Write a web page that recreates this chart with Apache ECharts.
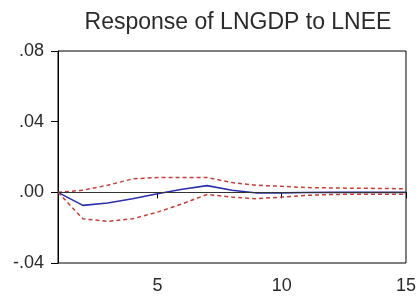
<!DOCTYPE html>
<html>
<head>
<meta charset="utf-8">
<script src="https://cdn.jsdelivr.net/npm/echarts@6/dist/echarts.min.js"></script>
<style>
  html, body { margin: 0; padding: 0; background: #fff; }
  #chart { width: 419px; height: 300px; }
</style>
</head>
<body>
<div id="chart"></div>
<script>
  // periods 1..15
  var periods = [1, 2, 3, 4, 5, 6, 7, 8, 9, 10, 11, 12, 13, 14, 15];
  var response = [0, -0.0074, -0.006, -0.0036, -0.0008, 0.0017, 0.0038, 0.0012, -0.0004, -0.0003, -0.0001, 0, 0, 0, 0];
  var upperBand = [0, 0.0012, 0.004, 0.0076, 0.0084, 0.0084, 0.0084, 0.0055, 0.004, 0.0034, 0.0027, 0.0025, 0.0023, 0.0022, 0.002];
  var lowerBand = [0, -0.015, -0.0164, -0.015, -0.0112, -0.0065, -0.0012, -0.0027, -0.0036, -0.0027, -0.0017, -0.0012, -0.0011, -0.0011, -0.0011];
  var xTicks = [5, 10, 15];

  function pairs(vals) {
    return vals.map(function (v, i) { return [periods[i], v]; });
  }

  var chart = echarts.init(document.getElementById('chart'));
  var option = {
    animation: false,
    title: {
      text: 'Response of LNGDP to LNEE',
      left: 233,
      textAlign: 'center',
      top: 6,
      textStyle: { fontFamily: 'Liberation Sans', fontSize: 23, fontWeight: 'normal', color: '#2a2a2a' }
    },
    grid: {
      left: 58, right: 12, top: 51, bottom: 37,
      show: true, borderColor: '#000', borderWidth: 1
    },
    xAxis: {
      type: 'value',
      min: 1,
      max: 15,
      splitLine: { show: false },
      axisLine: { lineStyle: { color: '#000', width: 1 } },
      axisTick: { customValues: xTicks, length: 6, lineStyle: { color: '#000' } },
      axisLabel: {
        customValues: xTicks, margin: 14,
        fontFamily: 'Liberation Sans', fontSize: 18, color: '#2a2a2a'
      }
    },
    yAxis: {
      type: 'value',
      min: -0.04,
      max: 0.08,
      interval: 0.04,
      splitLine: { show: false },
      axisLine: { show: true, lineStyle: { color: '#000', width: 1 } },
      axisTick: { show: true, length: 7, lineStyle: { color: '#000' } },
      axisLabel: {
        margin: 14, fontFamily: 'Liberation Sans', fontSize: 18, color: '#2a2a2a',
        formatter: function (v) { return v.toFixed(2).replace('0.', '.'); }
      }
    },
    series: [
      {
        type: 'line',
        data: pairs(response),
        symbol: 'none',
        lineStyle: { color: '#2b2fa8', width: 1.6 },
        markLine: {
          silent: true, symbol: 'none', label: { show: false },
          lineStyle: { color: '#333', width: 1, type: 'solid' },
          data: [{ yAxis: 0 }]
        },
        z: 3
      },
      {
        type: 'line',
        data: pairs(upperBand),
        symbol: 'none',
        lineStyle: { color: '#c0403c', width: 1.5, type: [4, 3] }
      },
      {
        type: 'line',
        data: pairs(lowerBand),
        symbol: 'none',
        lineStyle: { color: '#c0403c', width: 1.5, type: [4, 3] }
      }
    ]
  };
  chart.setOption(option);
</script>
</body>
</html>
